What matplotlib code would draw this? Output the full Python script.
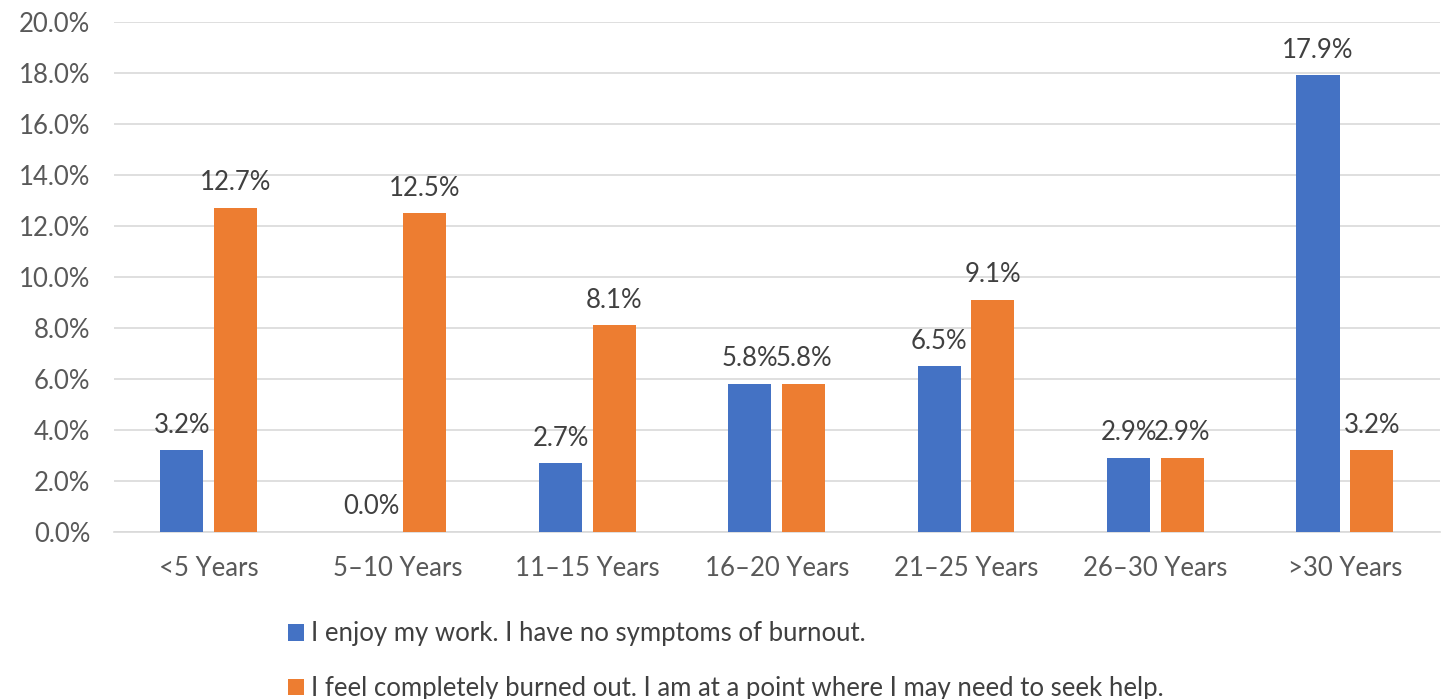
import numpy as np
import matplotlib.pyplot as plt
from matplotlib.ticker import PercentFormatter

# Data
categories = ["<5 Years", "5\u201310 Years", "11\u201315 Years", "16\u201320 Years",
              "21\u201325 Years", "26\u201330 Years", ">30 Years"]
no_burnout = [3.2, 0.0, 2.7, 5.8, 6.5, 2.9, 17.9]
burned_out = [12.7, 12.5, 8.1, 5.8, 9.1, 2.9, 3.2]
series_names = ["I enjoy my work. I have no symptoms of burnout.",
                "I feel completely burned out. I am at a point where I may need to seek help."]

blue = "#4472c4"
orange = "#ed7d31"
text_col = "#595959"
fs = 18.5

plt.rcParams['font.family'] = ['Lato', 'DejaVu Sans']

fig = plt.figure(figsize=(14.41, 6.99), dpi=100)
ax = fig.add_axes([0.079, 0.239, 0.92, 0.73])

x = np.arange(len(categories))
w = 0.228
off = 0.1415
b1 = ax.bar(x - off, no_burnout, w, color=blue, label=series_names[0], zorder=3)
b2 = ax.bar(x + off, burned_out, w, color=orange, label=series_names[1], zorder=3)

for bars, vals in ((b1, no_burnout), (b2, burned_out)):
    for r, v in zip(bars, vals):
        ax.annotate(f"{v:.1f}%", (r.get_x() + r.get_width() / 2, v),
                    xytext=(0, 9), textcoords="offset points",
                    ha="center", va="bottom", fontsize=fs, color="#404040")

ax.set_xlim(-0.5, len(categories) - 0.5)
ax.set_ylim(0, 20)
ax.set_yticks(np.arange(0, 21, 2))
ax.yaxis.set_major_formatter(PercentFormatter(decimals=1))
ax.set_xticks(x)
ax.set_xticklabels(categories)
ax.tick_params(axis="both", length=0, labelsize=fs, colors=text_col)
ax.tick_params(axis="x", pad=17)
ax.tick_params(axis="y", pad=17)
ax.grid(axis="y", color="#d9d9d9", linewidth=1.2, zorder=0)
for s in ["top", "right", "left"]:
    ax.spines[s].set_visible(False)
ax.spines["bottom"].set_color("#d9d9d9")
ax.spines["bottom"].set_linewidth(1.2)

fig.legend(loc="upper left", bbox_to_anchor=(0.2, 0.111), frameon=False,
           fontsize=fs, labelcolor="#404040", handlelength=0.6, handleheight=0.6,
           handletextpad=0.3, labelspacing=1.15, borderaxespad=0, borderpad=0)

fig.savefig("out.png", dpi=100)
